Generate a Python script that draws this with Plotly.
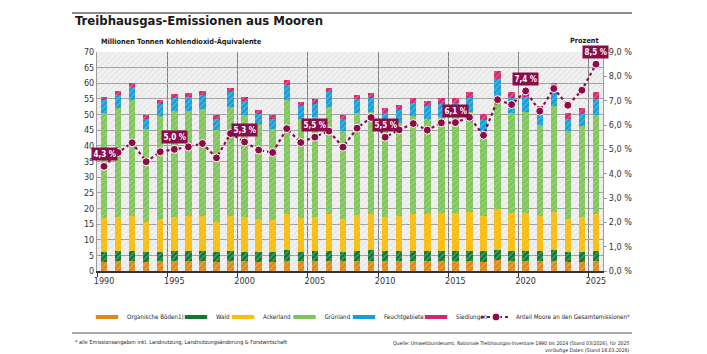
import plotly.graph_objects as go

years = list(range(1990, 2026))

organische_boeden = [3.0, 3.2, 3.3, 2.9, 3.1, 3.2, 3.2, 3.2, 2.9, 3.1, 3.1, 3.0,
                     3.0, 3.3, 3.2, 3.2, 3.3, 3.1, 3.3, 3.3, 3.2, 3.2, 3.3, 3.3,
                     3.1, 3.2, 3.2, 3.0, 3.4, 3.3, 3.2, 3.2, 3.3, 2.8, 2.9, 3.2]
wald = [3.1, 3.1, 3.1, 3.1, 3.1, 3.1, 3.1, 3.2, 3.1, 3.2, 3.1, 3.1,
        3.0, 3.3, 3.0, 3.1, 3.2, 3.1, 3.2, 3.3, 3.1, 3.2, 3.2, 3.2,
        3.3, 3.2, 3.3, 3.3, 3.3, 3.2, 3.2, 3.2, 3.3, 3.2, 3.3, 3.3]
ackerland = [10.7, 10.9, 11.2, 9.7, 10.5, 11.0, 11.3, 11.2, 9.7, 11.3, 11.0, 10.5,
             10.3, 11.6, 10.9, 11.1, 11.6, 10.5, 11.5, 11.6, 11.1, 11.3, 11.7, 11.7,
             12.1, 12.1, 12.4, 11.3, 13.0, 12.2, 12.3, 11.3, 12.2, 10.7, 11.0, 11.7]
gruenland = [33.6, 34.9, 36.9, 29.6, 32.7, 33.8, 33.6, 34.3, 29.3, 34.8, 32.8, 30.4,
             29.0, 36.4, 31.4, 31.9, 34.3, 28.2, 32.4, 32.7, 29.2, 29.6, 31.2, 30.4,
             30.8, 31.0, 32.0, 25.8, 35.9, 31.9, 32.2, 28.9, 33.9, 28.1, 29.2, 31.8]
feuchtgebiete = [4.1, 4.1, 4.4, 3.4, 4.0, 4.2, 4.4, 4.4, 3.7, 4.8, 4.4, 3.2,
                 3.4, 5.0, 4.2, 4.2, 4.7, 3.8, 4.6, 4.5, 4.0, 4.3, 4.4, 4.1,
                 4.2, 4.3, 4.5, 5.0, 5.9, 4.8, 4.8, 5.0, 6.1, 3.9, 3.9, 5.1]
siedlungen = [1.0, 1.2, 1.3, 1.3, 1.2, 1.3, 1.3, 1.3, 1.1, 1.3, 1.1, 1.3,
              1.3, 1.5, 1.2, 1.5, 1.5, 1.3, 1.4, 1.5, 1.6, 1.5, 1.5, 1.6,
              1.8, 1.6, 1.8, 1.7, 2.3, 1.8, 1.3, 1.1, 1.3, 1.8, 1.9, 2.1]
anteil_prozent = [4.3, 4.87, 5.27, 4.49, 4.90, 5.0, 5.10, 5.24, 4.65, 5.65, 5.3, 4.97,
                  4.87, 5.85, 5.28, 5.5, 5.75, 5.09, 5.87, 6.31, 5.5, 5.80, 6.06, 5.79,
                  6.09, 6.1, 6.32, 5.58, 7.04, 6.84, 7.4, 6.57, 7.50, 6.81, 7.43, 8.5]
label_years = [1990, 1995, 2000, 2005, 2010, 2015, 2020, 2025]

left_ticks = list(range(0, 75, 5))
right_ticks = list(range(0, 10))
right_ticktext = [f"{v},0 %" for v in right_ticks]
x_tickvals = [1990, 1995, 2000, 2005, 2010, 2015, 2020, 2025]

series = [
    ("Organische Böden1)", organische_boeden, "#E0890F"),
    ("Wald", wald, "#0E7A2E"),
    ("Ackerland", ackerland, "#FDBE00"),
    ("Grünland", gruenland, "#7DC855"),
    ("Feuchtgebiete", feuchtgebiete, "#129FDB"),
    ("Siedlungen", siedlungen, "#D6266B"),
]
MAROON = "#8A0C48"
FONT = "Liberation Sans Narrow, DejaVu Sans Condensed, Roboto, sans-serif"


def py(p):  # pixel y -> paper y
    return (271 - p) / 219


def px(p):  # pixel x -> paper x
    return (p - 97) / 506


# text start (pixels) of each legend entry; one legend per entry, laid out in a row
legend_text_px = [126, 215, 262, 323.5, 383, 455, 515]
legend_ids = ["legend"] + [f"legend{i}" for i in range(2, 8)]

fig = go.Figure()

# hatched plot background
fig.add_trace(go.Scatter(
    x=[1989.5, 2025.5, 2025.5, 1989.5, 1989.5], y=[0, 0, 70, 70, 0],
    fill="toself", mode="lines", line=dict(width=0),
    fillcolor="rgba(0,0,0,0)",
    fillpattern=dict(shape="/", fgcolor="#d2d2d2", bgcolor="rgba(0,0,0,0)",
                     size=4, solidity=0.25),
    hoverinfo="skip", showlegend=False))

for name, vals, col in series:
    fig.add_trace(go.Bar(x=years, y=vals, name=name, marker_color=col,
                         marker_line_width=0, showlegend=False, width=0.46))

# legend-only entries (short thick line swatches)
for i, (name, vals, col) in enumerate(series):
    fig.add_trace(go.Scatter(x=[None], y=[None], mode="markers", name=name,
                             legend=legend_ids[i],
                             marker=dict(symbol="line-ew", size=16,
                                         line=dict(color=col, width=4))))

fig.add_trace(go.Scatter(
    x=years, y=anteil_prozent, yaxis="y2", mode="lines+markers",
    name="Anteil Moore an den Gesamtemissionen*", legend=legend_ids[6],
    line=dict(color=MAROON, width=2.2, dash="dot"),
    marker=dict(size=8, color=MAROON, line=dict(color="white", width=1))))

annotations = []
for yr in label_years:
    v = anteil_prozent[years.index(yr)]
    annotations.append(dict(
        x=yr, y=v, xref="x", yref="y2", yshift=12, showarrow=False,
        text=f"<b>{v:.1f} %</b>".replace(".", ","),
        font=dict(family=FONT, size=8, color="white"),
        bgcolor=MAROON, borderpad=1.5))

annotations += [
    dict(xref="paper", yref="paper", x=px(73), y=py(21), xanchor="left", yanchor="middle",
         text="<b>Treibhausgas-Emissionen aus Mooren</b>", showarrow=False,
         font=dict(family=FONT, size=13, color="#1a1a1a")),
    dict(xref="paper", yref="paper", x=px(99), y=py(42), xanchor="left", yanchor="middle",
         text="<b>Millionen Tonnen Kohlendioxid-Äquivalente</b>", showarrow=False,
         font=dict(family=FONT, size=7.3, color="#1a1a1a")),
    dict(xref="paper", yref="paper", x=px(601), y=py(41), xanchor="right", yanchor="middle",
         text="<b>Prozent</b>", showarrow=False,
         font=dict(family=FONT, size=7.3, color="#1a1a1a")),
    dict(xref="paper", yref="paper", x=px(73), y=py(342), xanchor="left", yanchor="middle",
         text="* alle Emissionsangaben inkl. Landnutzung, Landnutzungsänderung &amp; Forstwirtschaft",
         showarrow=False, font=dict(family=FONT, size=5.5, color="#222")),
    dict(xref="paper", yref="paper", x=px(632), y=py(337.5), xanchor="right", yanchor="top",
         align="right",
         text="Quelle: Umweltbundesamt, Nationale Treibhausgas-Inventare 1990 bis 2024 (Stand 03/2026), für 2025<br>vorläufige Daten (Stand 18.03.2026)",
         showarrow=False, font=dict(family=FONT, size=5.1, color="#222")),
]

shapes = [
    dict(type="line", xref="paper", yref="paper", x0=px(72), x1=px(632), y0=py(13), y1=py(13),
         line=dict(color="#8c8c8c", width=2)),
    dict(type="line", xref="paper", yref="paper", x0=px(72), x1=px(632), y0=py(333), y1=py(333),
         line=dict(color="#8c8c8c", width=1.5)),
]

legends = {}
for lid, tx in zip(legend_ids, legend_text_px):
    legends[lid] = dict(orientation="h", x=px(tx - 39), xanchor="left", y=py(317), yanchor="middle",
                        font=dict(family=FONT, size=6.2, color="#222"),
                        bgcolor="rgba(0,0,0,0)", itemwidth=30, borderwidth=0)

fig.update_layout(
    width=707, height=354,
    margin=dict(l=97, r=104, t=52, b=83),
    paper_bgcolor="white", plot_bgcolor="#f1f1f1",
    barmode="stack", bargap=0.54,
    font=dict(family=FONT, size=9, color="#333"),
    showlegend=True,
    xaxis=dict(range=[1989.5, 2025.5], tickmode="array", tickvals=x_tickvals,
               ticktext=[str(v) for v in x_tickvals], ticks="", showgrid=False,
               showline=True, linecolor="#333", linewidth=1.5, zeroline=False,
               tickfont=dict(family=FONT, size=9, color="#333"),
               minor=dict(tickmode="array",
                          tickvals=[1989.5, 1994.5, 1999.5, 2004.5, 2009.5, 2014.5, 2019.5, 2024.5],
                          showgrid=True, gridcolor="#7a7a7a", gridwidth=1,
                          ticks="outside", ticklen=4, tickcolor="#333")),
    yaxis=dict(range=[0, 70], tickmode="array", tickvals=left_ticks, showgrid=True,
               gridcolor="#9c9c9c", gridwidth=1, zeroline=False, ticks="",
               showline=True, linecolor="#9c9c9c", linewidth=1,
               tickfont=dict(family=FONT, size=9, color="#333")),
    yaxis2=dict(range=[0, 9], overlaying="y", side="right", tickmode="array",
                tickvals=right_ticks, ticktext=right_ticktext, showgrid=False,
                zeroline=False, ticks="outside", ticklen=3, tickcolor="#9c9c9c",
                showline=True, linecolor="#9c9c9c", linewidth=1,
                tickfont=dict(family=FONT, size=9, color="#333")),
    annotations=annotations, shapes=shapes,
    **legends,
)

fig.write_html("out.html")
